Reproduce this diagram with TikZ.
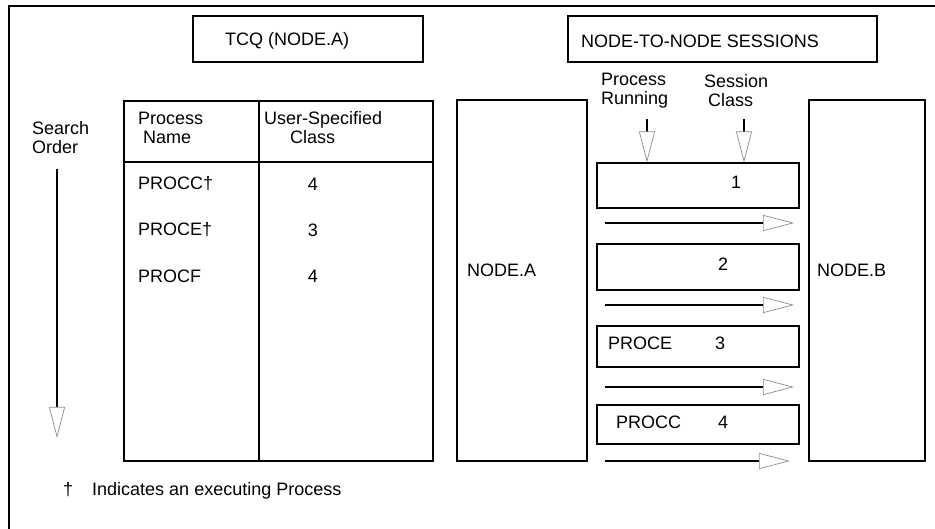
\documentclass[tikz,border=0pt]{standalone}
\usepackage{fontspec}
\setmainfont{Liberation Sans}
\usetikzlibrary{arrows.meta}

\begin{document}
\begin{tikzpicture}[x=1pt, y=-1pt,
    every node/.style={font=\fontsize{18}{19}\selectfont},
    box/.style={draw, line width=1.2pt, rectangle, inner sep=0pt},
    txt/.style={inner sep=0pt, anchor=west, align=left},
    num/.style={inner sep=0pt},
    flow/.style={line width=1.1pt, -{Triangle[open, length=31pt, width=16pt, line width=0.7pt, color=black!45]}}]
    \useasboundingbox (0,0) rectangle (935,529);

    % Outer frame (top and left edges)
    \draw[line width=1.2pt] (9,529) -- (9,6) -- (935,6);

    % Titles
    \node[box, minimum width=230pt, minimum height=46pt] (tcq) at (308,39) {};
    \node[txt] (tcqtxt) at (225,41) {TCQ (NODE.A)};
    \node[box, minimum width=309pt, minimum height=46pt] (ntn) at (722.5,39) {};
    \node[txt] (ntntxt) at (581,41) {NODE-TO-NODE SESSIONS};

    % Search order
    \node[txt] (search) at (32,138) {Search\\Order};
    \coordinate (so1) at (57,169);
    \coordinate (so2) at (57,438);
    \draw[flow] (so1) -- (so2);

    % TCQ table
    \node[box, minimum width=309pt, minimum height=360pt] (tab) at (278.5,281) {};
    \draw[line width=1.2pt] (124,162) -- (433,162);
    \draw[line width=1.2pt] (259,101) -- (259,461);
    \node[txt] (hname) at (138,127.5) {Process\\\hspace{5pt}Name};
    \node[txt] (hclass) at (264,127.5) {User-Specified\\\hspace{26pt}Class};
    \node[txt] (p1) at (138,184) {PROCC†};
    \node[num] (c1) at (313,184) {4};
    \node[txt] (p2) at (138,230) {PROCE†};
    \node[num] (c2) at (313,230) {3};
    \node[txt] (p3) at (138,276) {PROCF};
    \node[num] (c3) at (313,276) {4};

    % Nodes
    \node[box, minimum width=130pt, minimum height=361pt] (nodea) at (522,280.5) {};
    \node[txt] (nodeatxt) at (467,270) {NODE.A};
    \node[box, minimum width=116pt, minimum height=361pt] (nodeb) at (867,280.5) {};
    \node[txt] (nodebtxt) at (817,270) {NODE.B};

    % Sessions
    \node[txt] (prun) at (601,91) {Process\\Running};
    \node[txt] (sclass) at (704,91) {Session\\\hspace{4pt}Class};
    \node[box, minimum width=202pt, minimum height=45pt] (s1) at (698,185.5) {};
    \node[box, minimum width=202pt, minimum height=46pt] (s2) at (698,267) {};
    \node[box, minimum width=202pt, minimum height=41pt] (s3) at (698,346.5) {};
    \node[box, minimum width=202pt, minimum height=39pt] (s4) at (698,424.5) {};
    \node[num] (n1) at (736,182) {1};
    \node[num] (n2) at (723,264) {2};
    \node[txt] (pe) at (608,343) {PROCE};
    \node[num] (n3) at (720,343) {3};
    \node[txt] (pc) at (616,422) {PROCC};
    \node[num] (n4) at (723,422) {4};

    % Arrows into first session
    \coordinate (pra) at (647,119);
    \coordinate (sca) at (744,119);
    \draw[flow] (pra) -- (pra |- s1.north);
    \draw[flow] (sca) -- (sca |- s1.north);

    % Arrows towards NODE.B
    \coordinate (a1s) at (605,223);  \coordinate (a1e) at (794,223);
    \coordinate (a2s) at (605,305);  \coordinate (a2e) at (794,305);
    \coordinate (a3s) at (605,387);  \coordinate (a3e) at (794,387);
    \coordinate (a4s) at (605,461);  \coordinate (a4e) at (790,461);
    \draw[flow] (a1s) -- (a1e);
    \draw[flow] (a2s) -- (a2e);
    \draw[flow] (a3s) -- (a3e);
    \draw[flow] (a4s) -- (a4e);

    % Footnote
    \node[txt] (note) at (63,491) {†\hspace{19pt}Indicates an executing Process};
\end{tikzpicture}
\end{document}
